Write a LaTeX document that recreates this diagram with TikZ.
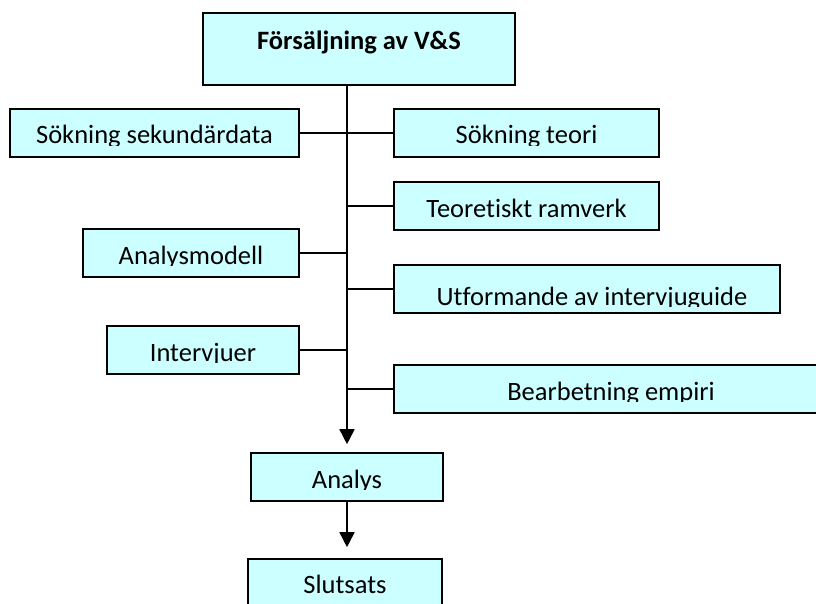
\documentclass[tikz,border=0pt]{standalone}
\usepackage{fontspec}
\setmainfont[Ligatures=CommonOff]{Carlito}
\usetikzlibrary{arrows.meta}
\definecolor{boxfill}{HTML}{CCFFFF}
% clipped label: name, x, baseline y, text (descenders cut just below baseline)
\newcommand{\cutlabel}[4]{%
  \begin{scope}
    \clip (#2-260,#3-40) rectangle (#2+260,#3+1.5);
    \node[lbl] (#1) at (#2,#3) {#4};
  \end{scope}}
\begin{document}
\begin{tikzpicture}[x=1pt,y=-1pt,
  box/.style={draw=black,fill=boxfill,line width=1.6pt,inner sep=0pt},
  lbl/.style={anchor=base,inner sep=0pt,font=\fontsize{26.5}{30}\selectfont},
  conn/.style={line width=1.6pt},
  arr/.style={line width=1.6pt,-{Triangle[width=15pt,length=15pt]}}]
\clip (0,0) rectangle (816,604);
\fill[white] (0,0) rectangle (816,604);
% boxes
\node[box,minimum width=312pt,minimum height=72pt] (top) at (359,49) {};
\node[lbl,font=\fontsize{26.5}{30}\selectfont\bfseries] (ttop) at (359,50) {Försäljning av V\&S};
\node[box,minimum width=289pt,minimum height=48pt] (sek) at (154.5,133) {};
\cutlabel{tsek}{154.5}{144}{Sökning sekundärdata}
\node[box,minimum width=265pt,minimum height=48pt] (teori) at (526.5,133) {};
\cutlabel{tteori}{526.5}{144}{Sökning teori}
\node[box,minimum width=265pt,minimum height=48pt] (ram) at (526.5,206) {};
\cutlabel{tram}{526.5}{217}{Teoretiskt ramverk}
\node[box,minimum width=216pt,minimum height=48pt] (mod) at (191,253) {};
\cutlabel{tmod}{191}{264}{Analysmodell}
\node[box,minimum width=386pt,minimum height=48pt] (utf) at (587,289) {};
\cutlabel{tutf}{592}{305}{Utformande av intervjuguide}
\node[box,minimum width=192pt,minimum height=48pt] (int) at (203,350) {};
\cutlabel{tint}{203}{361}{Intervjuer}
\node[box,minimum width=440pt,minimum height=48pt] (bea) at (614,389) {};
\cutlabel{tbea}{611}{400}{Bearbetning empiri}
\node[box,minimum width=192pt,minimum height=48pt] (ana) at (347,477) {};
\cutlabel{tana}{347}{488}{Analys}
\node[box,minimum width=194pt,minimum height=50pt] (slu) at (345,584) {};
\node[lbl] (tslu) at (345,593) {Slutsats};
% junction coordinates on the main line
\coordinate (j1) at (347,133);
\coordinate (j2) at (347,206);
\coordinate (j3) at (347,253);
\coordinate (j4) at (347,289);
\coordinate (j5) at (347,350);
\coordinate (j6) at (347,389);
% connectors
\draw[arr,shorten >=8pt] (top.south -| j1) -- (ana.north -| j1);
\draw[conn] (sek.east) -- (j1) -- (teori.west);
\draw[conn] (j2) -- (ram.west);
\draw[conn] (mod.east) -- (j3);
\draw[conn] (j4) -- (utf.west);
\draw[conn] (int.east) -- (j5);
\draw[conn] (j6) -- (bea.west);
\draw[arr,shorten >=11pt] (ana.south) -- (ana.south |- slu.north);
\end{tikzpicture}
\end{document}
